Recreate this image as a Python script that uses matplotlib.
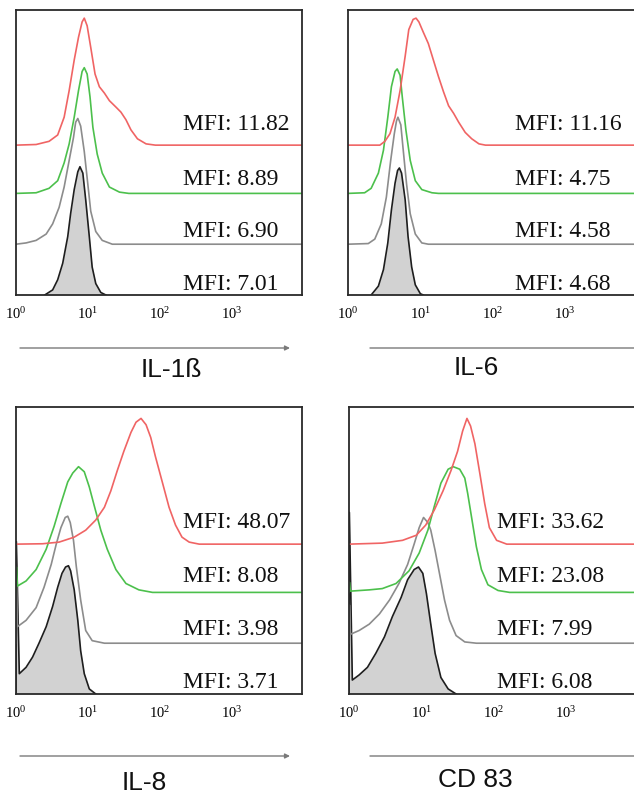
"""
  Overlaid flow cytometry histograms (IL-1ß, IL-6, IL-8, CD 83) with MFI values
"""
import matplotlib
matplotlib.use('Agg')
import matplotlib.pyplot as plt
from matplotlib.patches import FancyArrowPatch

W, H = 634, 796

# x values are log10(fluorescence), y values are counts relative to the peak
il1b_fill_x = [0.40, 0.51, 0.58, 0.65, 0.72, 0.76, 0.81, 0.86, 0.89, 0.93, 0.97, 1.02,
               1.06, 1.11, 1.18, 1.25]
il1b_fill_y = [0, 0.04, 0.12, 0.25, 0.46, 0.64, 0.83, 0.97, 1.01, 0.96, 0.75, 0.46,
               0.22, 0.09, 0.02, 0]
il1b_gray_x = [0, 0.14, 0.28, 0.42, 0.51, 0.60, 0.67, 0.74, 0.80, 0.83, 0.86, 0.90, 0.95,
               1.00, 1.04, 1.11, 1.20, 1.34, 4]
il1b_gray_y = [0, 0.01, 0.03, 0.08, 0.16, 0.29, 0.45, 0.66, 0.84, 0.96, 0.99, 0.93, 0.73,
               0.47, 0.26, 0.10, 0.03, 0, 0]
il1b_green_x = [0, 0.28, 0.46, 0.58, 0.67, 0.74, 0.81, 0.87, 0.92, 0.95, 0.99, 1.03, 1.07,
                1.13, 1.20, 1.30, 1.44, 1.57, 4]
il1b_green_y = [0, 0.005, 0.04, 0.10, 0.24, 0.39, 0.60, 0.81, 0.96, 0.99, 0.94, 0.76, 0.52,
                0.31, 0.16, 0.05, 0.01, 0, 0]
il1b_red_x = [0, 0.28, 0.46, 0.58, 0.67, 0.74, 0.81, 0.87, 0.92, 0.95, 0.99, 1.04, 1.10,
              1.16, 1.23, 1.30, 1.39, 1.46, 1.53, 1.60, 1.69, 1.81, 1.94, 4]
il1b_red_y = [0, 0.005, 0.03, 0.08, 0.22, 0.43, 0.67, 0.85, 0.97, 1.00, 0.94, 0.77, 0.56,
              0.46, 0.41, 0.35, 0.30, 0.26, 0.20, 0.12, 0.05, 0.01, 0, 0]
il1b_mfi = ['7.01', '6.90', '8.89', '11.82']

il6_fill_x = [0.32, 0.42, 0.49, 0.55, 0.60, 0.65, 0.685, 0.71, 0.74, 0.79, 0.83, 0.88,
              0.93, 1.00, 1.04]
il6_fill_y = [0, 0.07, 0.20, 0.41, 0.67, 0.88, 0.98, 1.00, 0.96, 0.75, 0.46, 0.22,
              0.08, 0.01, 0]
il6_gray_x = [0, 0.28, 0.37, 0.46, 0.53, 0.59, 0.64, 0.67, 0.69, 0.73, 0.76, 0.81, 0.86,
              0.93, 1.02, 1.11, 4]
il6_gray_y = [0, 0.005, 0.04, 0.16, 0.37, 0.66, 0.87, 0.97, 1.00, 0.94, 0.76, 0.47, 0.24,
              0.08, 0.01, 0, 0]
il6_green_x = [0, 0.23, 0.32, 0.42, 0.49, 0.55, 0.60, 0.65, 0.68, 0.72, 0.75, 0.80, 0.86,
               0.93, 1.02, 1.16, 1.25, 4]
il6_green_y = [0, 0.005, 0.04, 0.16, 0.34, 0.60, 0.84, 0.96, 0.98, 0.93, 0.76, 0.50, 0.26,
               0.10, 0.03, 0.005, 0, 0]
il6_red_x = [0, 0.44, 0.51, 0.58, 0.65, 0.72, 0.79, 0.84, 0.90, 0.94, 0.98, 1.04, 1.11,
             1.18, 1.25, 1.32, 1.39, 1.46, 1.53, 1.62, 1.71, 1.81, 1.90, 4]
il6_red_y = [0, 0, 0.03, 0.09, 0.22, 0.43, 0.70, 0.91, 0.99, 1.00, 0.97, 0.89, 0.80,
             0.67, 0.54, 0.42, 0.31, 0.25, 0.18, 0.10, 0.05, 0.01, 0, 0]
il6_mfi = ['4.68', '4.58', '4.75', '11.16']

il8_fill_x = [0, 0.005, 0.046, 0.14, 0.23, 0.32, 0.42, 0.51, 0.58, 0.64, 0.69, 0.73, 0.76,
              0.81, 0.86, 0.90, 0.95, 1.02, 1.11]
il8_fill_y = [0, 1.2, 0.16, 0.21, 0.29, 0.40, 0.53, 0.69, 0.84, 0.95, 1.00, 1.01, 0.97,
              0.82, 0.58, 0.34, 0.16, 0.04, 0]
il8_gray_x = [0, 0.005, 0.02, 0.14, 0.28, 0.39, 0.49, 0.56, 0.625, 0.685, 0.72, 0.755,
              0.80, 0.84, 0.90, 0.97, 1.06, 1.23, 4]
il8_gray_y = [0, 0.5, 0.13, 0.18, 0.28, 0.44, 0.62, 0.78, 0.91, 0.99, 1.00, 0.95,
              0.81, 0.60, 0.34, 0.10, 0.02, 0, 0]
il8_green_x = [0, 0.005, 0.02, 0.14, 0.28, 0.42, 0.53, 0.625, 0.72, 0.79, 0.87, 0.95, 1.02,
               1.09, 1.18, 1.27, 1.39, 1.53, 1.71, 1.90, 4]
il8_green_y = [0, 0.2, 0.05, 0.09, 0.18, 0.34, 0.52, 0.70, 0.87, 0.94, 0.99, 0.95, 0.83,
               0.68, 0.49, 0.34, 0.18, 0.07, 0.02, 0, 0]
il8_red_x = [0, 0.37, 0.60, 0.81, 0.97, 1.11, 1.23, 1.32, 1.41, 1.50, 1.60, 1.67, 1.74,
             1.81, 1.875, 1.94, 2.04, 2.13, 2.22, 2.31, 2.41, 2.55, 4]
il8_red_y = [0, 0.003, 0.016, 0.055, 0.11, 0.19, 0.29, 0.42, 0.58, 0.73, 0.88, 0.96, 0.99,
             0.94, 0.84, 0.69, 0.48, 0.29, 0.15, 0.055, 0.016, 0, 0]
il8_mfi = ['3.71', '3.98', '8.08', '48.07']

cd83_fill_x = [0, 0.005, 0.046, 0.14, 0.255, 0.37, 0.49, 0.60, 0.72, 0.81, 0.90, 0.96, 1.02,
               1.07, 1.13, 1.19, 1.27, 1.37, 1.48]
cd83_fill_y = [0, 1.43, 0.11, 0.15, 0.21, 0.32, 0.45, 0.61, 0.76, 0.90, 0.98, 1.00, 0.95,
               0.79, 0.55, 0.32, 0.13, 0.04, 0]
cd83_gray_x = [0, 0.005, 0.02, 0.14, 0.28, 0.42, 0.56, 0.69, 0.81, 0.90, 0.97, 1.03, 1.09,
               1.13, 1.19, 1.25, 1.32, 1.39, 1.48, 1.60, 1.76, 4]
cd83_gray_y = [0, 0.3, 0.07, 0.10, 0.15, 0.23, 0.34, 0.47, 0.62, 0.78, 0.91, 0.99, 0.95,
               0.89, 0.73, 0.55, 0.34, 0.18, 0.06, 0.01, 0, 0]
cd83_green_x = [0, 0.005, 0.02, 0.28, 0.46, 0.65, 0.83, 0.97, 1.09, 1.18, 1.27, 1.37, 1.44,
                1.53, 1.60, 1.64, 1.70, 1.76, 1.83, 1.92, 2.06, 2.22, 4]
cd83_green_y = [0, 0.08, 0.01, 0.02, 0.03, 0.07, 0.17, 0.31, 0.49, 0.68, 0.86, 0.97, 0.99,
                0.97, 0.90, 0.78, 0.57, 0.36, 0.18, 0.06, 0.015, 0, 0]
cd83_red_x = [0, 0.46, 0.74, 0.93, 1.06, 1.18, 1.30, 1.41, 1.50, 1.57, 1.63, 1.68, 1.74,
              1.81, 1.875, 1.94, 2.04, 2.18, 4]
cd83_red_y = [0, 0.008, 0.03, 0.07, 0.15, 0.27, 0.42, 0.58, 0.73, 0.89, 0.99, 0.93, 0.79,
              0.55, 0.32, 0.13, 0.03, 0, 0]
cd83_mfi = ['6.08', '7.99', '23.08', '33.62']

tick_values = [1, 10, 100, 1000]
tick_labels = [r'$\mathregular{10^{0}}$', r'$\mathregular{10^{1}}$',
               r'$\mathregular{10^{2}}$', r'$\mathregular{10^{3}}$']

OFFSETS = [0, 0.40, 0.80, 1.18]
COLORS = ['#1e1e1e', '#8c8c8c', '#4cc04c', '#f06464']
SERIF = ['Liberation Serif', 'DejaVu Serif']

plt.rcParams['mathtext.fontset'] = 'custom'
plt.rcParams['mathtext.rm'] = 'Liberation Serif'

fig = plt.figure(figsize=(W / 100, H / 100), dpi=100)


def px_axes(left, top, right, bottom):
    return fig.add_axes([left / W, 1 - bottom / H, (right - left) / W, (bottom - top) / H])


def draw_panel(ax, curves, mfi, ytop, text_x, text_y):
    for i, (xs, ys) in enumerate(curves):
        xv = [10 ** v for v in xs]
        yv = [OFFSETS[i] + v for v in ys]
        if i == 0:
            ax.fill_between(xv, 0, yv, color='#d2d2d2', lw=0)
        ax.plot(xv, yv, color=COLORS[i], lw=1.2, solid_joinstyle='round')
        ax.text(text_x, text_y[i], 'MFI: ' + mfi[i], transform=ax.transAxes,
                family=SERIF, fontsize=17, va='baseline', ha='left', color='#111111')
    ax.set_xscale('log')
    ax.set_xlim(1, 10 ** 3.98)
    ax.set_ylim(0, ytop)
    ax.set_yticks([])
    ax.set_xticks(tick_values)
    ax.set_xticklabels(tick_labels, family=SERIF, fontsize=10.5)
    ax.minorticks_off()
    ax.tick_params(axis='x', length=0, pad=8)
    for sp in ax.spines.values():
        sp.set_color('#2a2a2a')
        sp.set_linewidth(1.3)


def axis_arrow(x1, x2, y):
    arr = FancyArrowPatch((x1 / W, 1 - y / H), (x2 / W, 1 - y / H), transform=fig.transFigure,
                          arrowstyle='-|>', mutation_scale=7, color='#7a7a7a', lw=1.0,
                          shrinkA=0, shrinkB=0)
    fig.add_artist(arr)


text_y_top = [0.0175, 0.204, 0.386, 0.579]
text_y_bot = [0.021, 0.206, 0.390, 0.578]

ax1 = px_axes(16, 10, 302, 295)
draw_panel(ax1, [(il1b_fill_x, il1b_fill_y), (il1b_gray_x, il1b_gray_y),
                 (il1b_green_x, il1b_green_y), (il1b_red_x, il1b_red_y)],
           il1b_mfi, 285 / 127, 0.584, text_y_top)

ax2 = px_axes(348, 10, 636, 295)
draw_panel(ax2, [(il6_fill_x, il6_fill_y), (il6_gray_x, il6_gray_y),
                 (il6_green_x, il6_green_y), (il6_red_x, il6_red_y)],
           il6_mfi, 285 / 127, 0.58, text_y_top)

ax3 = px_axes(16, 407, 302, 694)
draw_panel(ax3, [(il8_fill_x, il8_fill_y), (il8_gray_x, il8_gray_y),
                 (il8_green_x, il8_green_y), (il8_red_x, il8_red_y)],
           il8_mfi, 287 / 127, 0.584, text_y_bot)

ax4 = px_axes(349, 407, 637, 694)
draw_panel(ax4, [(cd83_fill_x, cd83_fill_y), (cd83_gray_x, cd83_gray_y),
                 (cd83_green_x, cd83_green_y), (cd83_red_x, cd83_red_y)],
           cd83_mfi, 287 / 127, 0.514, text_y_bot)

axis_arrow(20, 290, 348)
axis_arrow(370, 660, 348)
axis_arrow(20, 290, 756)
axis_arrow(370, 660, 756)

for label, x, y in [('IL-1ß', 171, 370), ('IL-6', 476, 368), ('IL-8', 144, 783), ('CD 83', 475, 780)]:
    fig.text(x / W, 1 - y / H, label, family=['Liberation Sans', 'DejaVu Sans'], fontsize=19,
             ha='center', va='center', color='#111111')

fig.savefig('out.png', dpi=100)
